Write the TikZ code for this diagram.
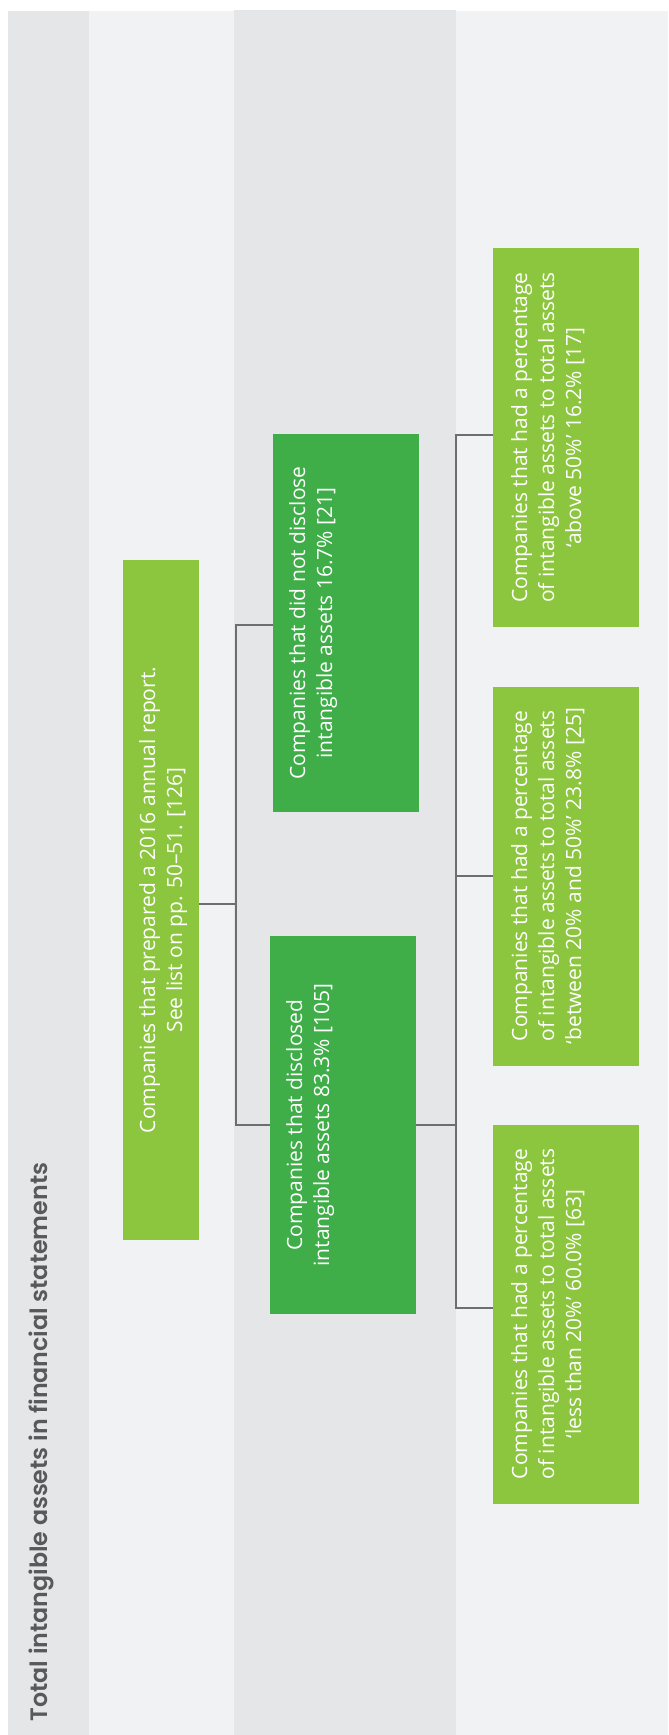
\documentclass[tikz,border=0pt]{standalone}
\usepackage{fontspec}
\setmainfont{Open Sans}
\newfontfamily\titlefont{Poppins SemiBold}
\definecolor{colA}{HTML}{E5E6E8}
\definecolor{colB}{HTML}{F1F2F4}
\definecolor{limeC}{HTML}{8CC63F}
\definecolor{greenC}{HTML}{3FAE49}
\definecolor{lineC}{HTML}{6D6E71}
\definecolor{titleC}{HTML}{58595B}
\begin{document}
\begin{tikzpicture}[x=0.75pt,y=-0.75pt,
  band/.style={fill=#1, draw=none},
  boxbase/.style={rectangle, inner sep=0pt, outer sep=0pt, draw=none},
  limebox/.style={boxbase, fill=limeC, minimum width=146*0.75pt, minimum height=379*0.75pt},
  greenbox/.style={boxbase, fill=greenC, minimum width=146*0.75pt, minimum height=378*0.75pt},
  rootbox/.style={boxbase, fill=limeC, minimum width=76*0.75pt, minimum height=680*0.75pt},
  boxtext/.style={text=white, inner sep=0pt, anchor=west, font=\fontsize{15.75}{20.25}\selectfont},
  titletext/.style={text=titleC, inner sep=0pt, font=\titlefont\fontsize{17.8}{20}\selectfont},
  conn/.style={draw=lineC, line width=0.9pt}]
\useasboundingbox (0,0) rectangle (668,1735);
\fill[white] (0,0) rectangle (668,1735);
% column bands
\fill[band=colA] (8,11) rectangle (89,1735);
\fill[band=colB] (89,11) rectangle (234,1735);
\fill[band=colA] (234,10) rectangle (456,1735);
\fill[band=colB] (456,11) rectangle (668,1735);
% title
\node[titletext] (title) at (41.5,1442) {\rotatebox{90}{Total intangible assets in financial statements}};
% boxes
\node[rootbox] (root) at (161,900) {};
\node[greenbox] (dnd) at (346,623) {};
\node[greenbox] (disc) at (343,1125) {};
\node[limebox] (above) at (566,437.5) {};
\node[limebox] (between) at (566,876) {};
\node[limebox] (less) at (566,1314) {};
% texts
\node[boxtext] (rootT) at ([xshift=13*0.75pt]root.west) {\rotatebox{90}{\begin{tabular}{@{}c@{}}Companies that prepared a 2016 annual report.\\ See list on pp. 50–51. [126]\end{tabular}}};
\node[boxtext] (dndT) at ([xshift=13*0.75pt]dnd.west) {\rotatebox{90}{\begin{tabular}{@{}c@{}}Companies that did not disclose\\ intangible assets 16.7\% [21]\end{tabular}}};
\node[boxtext] (discT) at ([xshift=13*0.75pt]disc.west) {\rotatebox{90}{\begin{tabular}{@{}c@{}}Companies that disclosed\\ intangible assets 83.3\% [105]\end{tabular}}};
\node[boxtext] (aboveT) at ([xshift=15*0.75pt]above.west) {\rotatebox{90}{\begin{tabular}{@{}c@{}}Companies that had a percentage\\ of intangible assets to total assets\\ ‘above 50\%’ 16.2\% [17]\end{tabular}}};
\node[boxtext] (betweenT) at ([xshift=15*0.75pt]between.west) {\rotatebox{90}{\begin{tabular}{@{}c@{}}Companies that had a percentage\\ of intangible assets to total assets\\ ‘between 20\% and 50\%’ 23.8\% [25]\end{tabular}}};
\node[boxtext] (lessT) at ([xshift=15*0.75pt]less.west) {\rotatebox{90}{\begin{tabular}{@{}c@{}}Companies that had a percentage\\ of intangible assets to total assets\\ ‘less than 20\%’ 60.0\% [63]\end{tabular}}};
% connectors
\coordinate (j1) at (236,900);
\coordinate (j2) at (456,1125);
\coordinate (rootE) at ([yshift=-3pt]root.east);
\coordinate (dndW) at ([yshift=-1.5pt]dnd.west);
\coordinate (aboveW) at ([yshift=1.9pt]above.west);
\coordinate (lessW) at ([yshift=4.5pt]less.west);
\draw[conn] (rootE) -- (rootE -| j1);
\draw[conn] (dndW) -- (dndW -| j1) -- (disc.west -| j1) -- (disc.west);
\draw[conn] (disc.east) -- (disc.east -| j2);
\draw[conn] (aboveW) -- (aboveW -| j2) -- (lessW -| j2) -- (lessW);
\draw[conn] (between.west) -- (between.west -| j2);
\end{tikzpicture}
\end{document}
